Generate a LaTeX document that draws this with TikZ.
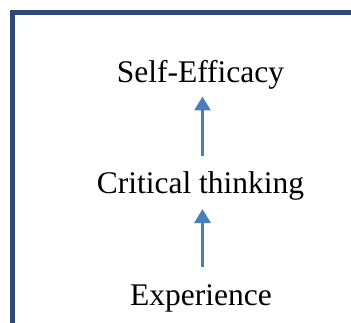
\documentclass[tikz,border=0pt]{standalone}
\usepackage{fontspec}
\setmainfont{Liberation Serif}
\usetikzlibrary{arrows.meta}
\definecolor{framecol}{HTML}{2C4A72}
\definecolor{arrowcol}{HTML}{4A7EBB}
\tikzset{
  label text/.style={anchor=base, inner sep=0pt, font=\fontsize{31.5pt}{36pt}\selectfont},
  flow/.style={draw=arrowcol, line width=3pt, -{Triangle[width=16pt,length=14pt]}},
  frameline/.style={draw=framecol, line width=5pt}
}
\begin{document}
\begin{tikzpicture}[x=1pt,y=1pt]
  \useasboundingbox (0,0) rectangle (351,322);
  \clip (0,0) rectangle (351,322);
  % open frame along left and top edges
  \draw[frameline] (12.5,-5) -- (12.5,309.5) -- (360,309.5);
  % stages
  \node[label text] (eff) at (200.5,239) {Self-Efficacy};
  \node[label text] (crit) at (200.5,129) {Critical thinking};
  \node[label text] (exp) at (201,17) {Experience};
  % arrow end points
  \coordinate (a1s) at (202.5,166);
  \coordinate (a1e) at (202.5,225.5);
  \coordinate (a2s) at (202.5,55);
  \coordinate (a2e) at (202.5,113);
  \draw[flow] (a1s) -- (a1e);
  \draw[flow] (a2s) -- (a2e);
\end{tikzpicture}
\end{document}
